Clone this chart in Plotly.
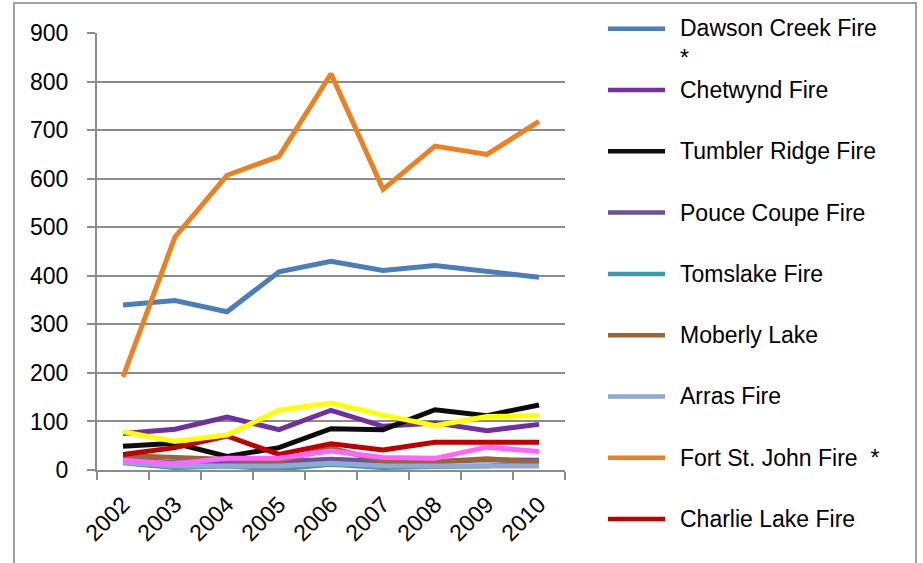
import plotly.graph_objects as go

years = ["2002", "2003", "2004", "2005", "2006", "2007", "2008", "2009", "2010"]

dawson_creek = [340, 349, 326, 408, 430, 411, 421, 410, 397]
chetwynd = [75, 84, 109, 83, 123, 90, 97, 81, 94]
tumbler_ridge = [49, 55, 28, 46, 85, 83, 124, 112, 134]
pouce_coupe = [22, 15, 15, 17, 22, 18, 17, 21, 20]
tomslake = [15, 5, 8, 2, 12, 5, 7, 8, 18]
moberly_lake = [30, 26, 21, 18, 45, 18, 17, 23, 16]
arras = [16, 8, 8, 8, 14, 9, 8, 7, 8]
fort_st_john = [192, 480, 607, 646, 816, 578, 667, 650, 718]
charlie_lake = [32, 46, 70, 32, 54, 41, 57, 58, 57]
series_10 = [20, 13, 24, 24, 39, 26, 24, 47, 38]
series_11 = [79, 59, 72, 123, 138, 113, 91, 110, 112]

names = ["Dawson Creek Fire *", "Chetwynd Fire", "Tumbler Ridge Fire", "Pouce Coupe Fire",
         "Tomslake Fire", "Moberly Lake", "Arras Fire", "Fort St. John Fire  *",
         "Charlie Lake Fire", "Series 10", "Series 11"]
values = [dawson_creek, chetwynd, tumbler_ridge, pouce_coupe, tomslake, moberly_lake,
          arras, fort_st_john, charlie_lake, series_10, series_11]
colors = ["#4A7EBB", "#7030A0", "#0D0D0D", "#6A5294", "#3C97B1", "#9B6535",
          "#8DA9D4", "#EE8020", "#C00000", "#FF66FF", "#FFFF00"]
in_legend = [True] * 9 + [False, False]

FONT = "Liberation Sans, Arial, sans-serif"
GRID = "#8C8C8C"
FS = 23

fig = go.Figure()
for n, v, c in zip(names, values, colors):
    fig.add_trace(go.Scatter(x=years, y=v, name=n, mode="lines",
                             line=dict(color=c, width=5), showlegend=False))

# plot area in pixels (for the hand-built legend)
L, R, T, B = 97, 565, 33, 470
W, H = R - L, B - T

def px_x(p):
    return (p - L) / W

def px_y(p):
    return (B - p) / H

shapes = []
annotations = []
# outer chart border
shapes.append(dict(type="rect", xref="paper", yref="paper",
                   x0=px_x(14), x1=px_x(916), y0=px_y(620), y1=px_y(3),
                   line=dict(color="#A0A0A0", width=2), fillcolor="rgba(0,0,0,0)", layer="below"))

row = 0
for n, c, show in zip(names, colors, in_legend):
    if not show:
        continue
    cy = 28.7 + row * 61.3
    shapes.append(dict(type="line", xref="paper", yref="paper",
                       x0=px_x(608), x1=px_x(665), y0=px_y(cy), y1=px_y(cy),
                       line=dict(color=c, width=4.5)))
    label = n
    ycen = cy
    if n.startswith("Dawson"):
        label = "Dawson Creek Fire<br>*"
        ycen = cy + 14
    elif n.startswith("Fort"):
        label = "Fort St. John Fire\u00a0\u00a0*"
    annotations.append(dict(xref="paper", yref="paper", x=px_x(678), y=px_y(ycen),
                            xanchor="left", yanchor="middle", align="left",
                            text=label, showarrow=False,
                            font=dict(family=FONT, size=FS, color="#000000")))
    row += 1

fig.update_layout(
    width=923, height=563,
    margin=dict(l=L, r=923 - R, t=T, b=563 - B),
    paper_bgcolor="white", plot_bgcolor="white",
    font=dict(family=FONT, size=FS, color="#000000"),
    showlegend=False,
    shapes=shapes, annotations=annotations,
    xaxis=dict(type="category", tickson="boundaries", showgrid=False,
               showline=True, linecolor=GRID, linewidth=2,
               ticks="outside", ticklen=8, tickwidth=2, tickcolor=GRID,
               tickangle=-45, tickfont=dict(size=FS), range=[-0.5, 8.5],
               ticklabelstandoff=10),
    yaxis=dict(range=[0, 900], dtick=100, showgrid=True, gridcolor=GRID, gridwidth=2,
               showline=True, linecolor=GRID, linewidth=2, zeroline=False,
               ticks="outside", ticklen=8, tickwidth=2, tickcolor=GRID,
               tickfont=dict(size=FS), ticklabelstandoff=14),
)

fig.write_html("out.html", config={"displayModeBar": False},
               post_script="document.body.style.margin='0px';")
